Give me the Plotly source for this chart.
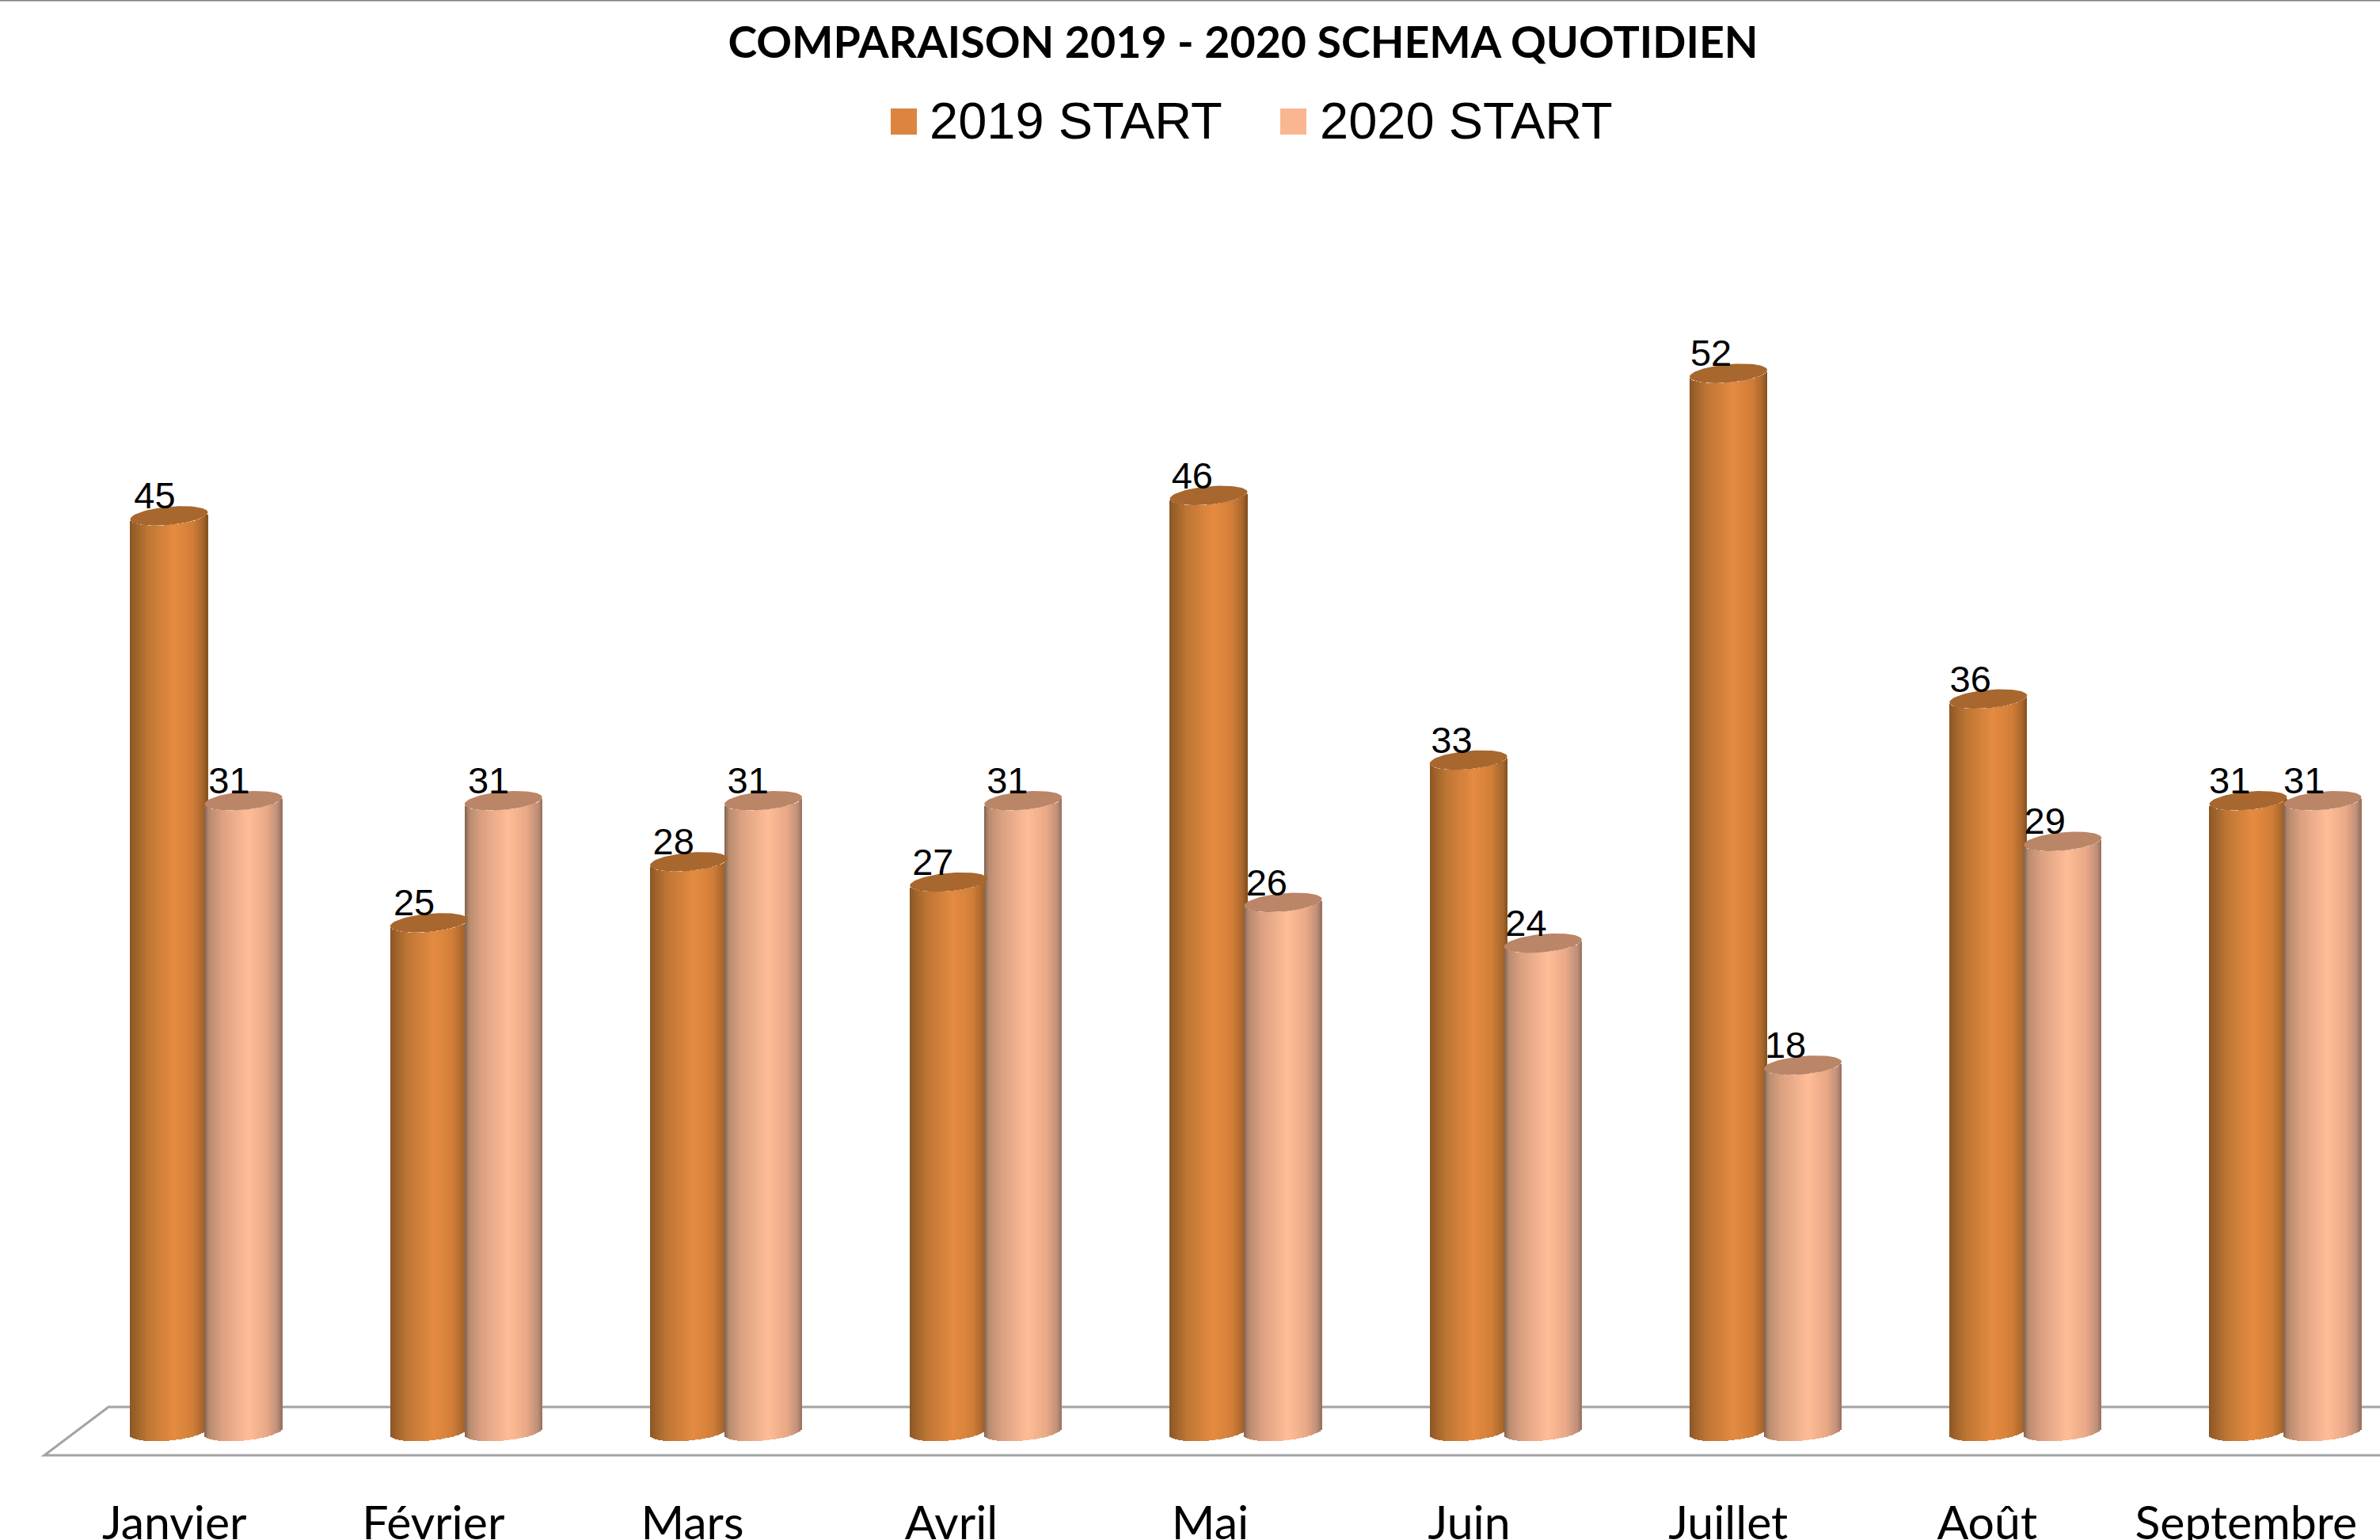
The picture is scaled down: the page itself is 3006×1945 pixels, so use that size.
import numpy as np
import plotly.graph_objects as go

months = ["Janvier", "Février", "Mars", "Avril", "Mai", "Juin", "Juillet", "Août", "Septembre"]
start_2019 = [45, 25, 28, 27, 46, 33, 52, 36, 31]
start_2020 = [31, 31, 31, 31, 26, 24, 18, 29, 31]
series_names = ["2019 START", "2020 START"]

W, H = 3006, 1945
PITCH, X0 = 328.25, 260.5     # px per category, px of first category
UNIT, Y0 = 25.7, 1808.0       # px per value, px of value 0
BOTTOM = 1880.0               # px of plot bottom

x_range = [(0 - X0) / PITCH, (W - X0) / PITCH]
y_range = [(Y0 - BOTTOM) / UNIT, Y0 / UNIT]

OFF = 47 / PITCH              # cylinder centre offset
A = 49 / PITCH                # half width
B = 11.5 / UNIT               # ellipse half height
S = 4.3 / UNIT                # ellipse tilt
N = 48

STOPS_U = [-1, -0.88, -0.55, 0.12, 0.6, 0.88, 1]
SHADE = {
    0: ["#8a5524", "#9c612a", "#bf7735", "#e58b42", "#d37f39", "#a9672c", "#82501f"],
    1: ["#7f6250", "#b98c70", "#dca181", "#ffbd97", "#eaa987", "#c0907a", "#96705c"],
}
CAP = ["#a8672e", "#bb8567"]
SWATCH = ["#dc8540", "#f9b690"]


def rgb(h):
    return np.array([int(h[i:i + 2], 16) for i in (1, 3, 5)], float)


def shade(series, u):
    arr = np.array([rgb(c) for c in SHADE[series]])
    return "rgb(%d,%d,%d)" % tuple(np.interp(u, STOPS_U, arr[:, k]) for k in range(3))


fig = go.Figure()
us = (np.arange(N) + 0.5) / N * 2 - 1
ts = np.linspace(0, 2 * np.pi, 73)

for s, (values, sign) in enumerate(zip([start_2019, start_2020], [-1, 1])):
    xs, ys, bases, cols = [], [], [], []
    for i, v in enumerate(values):
        for u in us:
            xs.append(i + sign * OFF + u * A)
            ys.append(v)
            bases.append(S * u - B * np.sqrt(1 - u * u))
            cols.append(shade(s, u))
    fig.add_bar(x=xs, y=ys, base=bases, width=2 * A / N * 1.12, name=series_names[s],
                marker=dict(color=cols, line=dict(width=0)), showlegend=False,
                hoverinfo="skip")
    cap_x, cap_y = [], []
    for i, v in enumerate(values):
        cap_x += list(i + sign * OFF + A * np.cos(ts)) + [None]
        cap_y += list(v + S * np.cos(ts) + B * np.sin(ts)) + [None]
    fig.add_scatter(x=cap_x, y=cap_y, mode="lines", fill="toself", fillcolor=CAP[s],
                    line=dict(width=0, color=CAP[s]), showlegend=False, hoverinfo="skip")

for s, (values, sign) in enumerate(zip([start_2019, start_2020], [-1, 1])):
    fig.add_scatter(x=[i + sign * OFF - 18 / PITCH - 0.002 * i for i in range(len(values))],
                    y=[v + 21 / UNIT for v in values], text=[str(v) for v in values],
                    mode="text", textposition="middle center",
                    textfont=dict(family="Liberation Sans", size=47, color="#000000"),
                    showlegend=False, hoverinfo="skip")

for s in range(2):
    fig.add_scatter(x=[None], y=[None], mode="markers", name=series_names[s],
                    marker=dict(symbol="square", size=16, color=SWATCH[s]))

FRONT, BACK = (Y0 - 1838) / UNIT, (Y0 - 1777) / UNIT
FX, BX = (56 - X0) / PITCH, (137 - X0) / PITCH
floor = dict(type="path", xref="x", yref="y", layer="below",
             line=dict(color="#a3a3a3", width=3),
             path=f"M{x_range[1]},{BACK} L{BX},{BACK} L{FX},{FRONT} L{x_range[1]},{FRONT}")
shapes = [floor,
          dict(type="line", xref="x", yref="paper", x0=x_range[0], x1=x_range[1],
               y0=1, y1=1, line=dict(color="#7f7f7f", width=3))]


def px(xp, yp):
    return xp / W, 1 - yp / BOTTOM


for xl, col in zip([1125, 1617], SWATCH):
    x0, y0 = px(xl, 137)
    x1, y1 = px(xl + 33, 170)
    shapes.append(dict(type="rect", xref="paper", yref="paper", x0=x0, x1=x1, y0=y0, y1=y1,
                       fillcolor=col, line=dict(width=0)))

fig.update_layout(
    width=W, height=H, margin=dict(l=0, r=0, t=0, b=H - BOTTOM, pad=0, autoexpand=False),
    paper_bgcolor="#ffffff", plot_bgcolor="rgba(0,0,0,0)", barmode="overlay", bargap=0,
    hovermode=False, shapes=shapes,
    title=dict(text="<b>COMPARAISON 2019 - 2020 SCHEMA QUOTIDIEN</b>", x=1570 / W, xanchor="center",
               y=1 - 54 / H, yanchor="middle",
               font=dict(family="Lato", size=55.5, color="#000000")),
    legend=dict(orientation="h", x=1105 / W, xanchor="left", y=1 - 150 / BOTTOM, yanchor="middle",
                font=dict(family="Liberation Sans", size=65, color="#000000"),
                bgcolor="rgba(0,0,0,0)", itemwidth=59, entrywidth=419, entrywidthmode="pixels",
                itemsizing="constant"),
    xaxis=dict(range=x_range, showgrid=False, zeroline=False, showline=False, ticks="",
               tickmode="array", tickvals=[i * 0.9964 - 0.1225 for i in range(len(months))],
               ticktext=months,
               tickfont=dict(family="Lato", size=59, color="#000000"), tickangle=0,
               ticklabelstandoff=4, automargin=False),
    yaxis=dict(range=y_range, visible=False, automargin=False),
)

fig.write_html("out.html", config={"displayModeBar": False},
               post_script="document.body.style.margin='0';document.body.style.overflow='hidden';")
